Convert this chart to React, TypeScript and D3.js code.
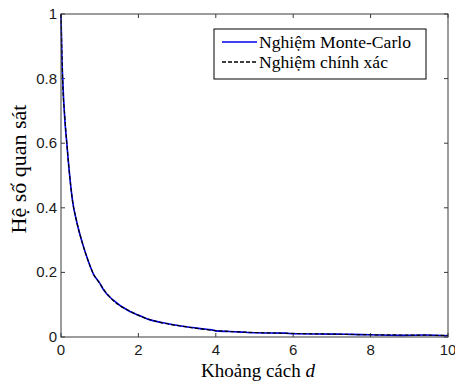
import { useRef, useEffect } from "react";
import * as d3 from "d3";

// distance d and correlation values
const exactD = [0, 0.02, 0.04, 0.1, 0.15, 0.2, 0.3, 0.4, 0.53, 0.69, 0.84, 1.0, 1.1, 1.35, 1.78, 2.0, 2.64, 3.1, 3.6, 4.0, 5, 6, 7, 8, 9, 10];
const exactV = [1.0, 0.9, 0.8, 0.68, 0.6, 0.53, 0.42, 0.36, 0.3, 0.24, 0.195, 0.166, 0.148, 0.113, 0.08, 0.067, 0.043, 0.034, 0.025, 0.02, 0.014, 0.011, 0.009, 0.007, 0.006, 0.005];

const mcD = [0, 0.02, 0.04, 0.1, 0.15, 0.2, 0.3, 0.4, 0.53, 0.69, 0.84, 1.0, 1.1, 1.35, 1.78, 2.0, 2.3, 2.64, 3.1, 3.6, 3.9, 4.0, 4.6, 5.0, 5.8, 6.0, 7.1, 7.5, 8.0, 8.8, 9.4, 10];
const mcV = [1.0, 0.88, 0.81, 0.67, 0.6, 0.53, 0.42, 0.36, 0.3, 0.24, 0.194, 0.167, 0.146, 0.114, 0.079, 0.068, 0.053, 0.044, 0.034, 0.026, 0.022, 0.019, 0.016, 0.013, 0.012, 0.010, 0.009, 0.008, 0.007, 0.005, 0.006, 0.004];

const xTicks = [0, 2, 4, 6, 8, 10];
const yTicks = [0, 0.2, 0.4, 0.6, 0.8, 1];

const legendLabels = ["Nghiệm Monte-Carlo", "Nghiệm chính xác"];

const SERIF = "Liberation Serif, DejaVu Serif, Times New Roman, serif";
const SANS = "Liberation Sans, Arial, sans-serif";

export default function App() {
  const ref = useRef<SVGSVGElement>(null);

  useEffect(() => {
    if (!ref.current) return;
    const svg = d3.select(ref.current);
    svg.selectAll("*").remove();

    const left = 61, right = 448, top = 14, bottom = 337;
    const x = d3.scaleLinear().domain([0, 10]).range([left, right]);
    const y = d3.scaleLinear().domain([0, 1]).range([bottom, top]);

    svg.append("rect").attr("width", 455).attr("height", 383).attr("fill", "#fff");

    // ticks (inside, all four sides)
    const axisColor = "#3a3a3a";
    const tl = 4;
    xTicks.forEach((t) => {
      svg.append("line").attr("x1", x(t)).attr("x2", x(t)).attr("y1", bottom).attr("y2", bottom - tl).attr("stroke", axisColor);
      svg.append("line").attr("x1", x(t)).attr("x2", x(t)).attr("y1", top).attr("y2", top + tl).attr("stroke", axisColor);
      svg.append("text")
        .attr("x", x(t)).attr("y", 355)
        .attr("text-anchor", "middle")
        .attr("font-family", SANS)
        .attr("font-size", 15)
        .attr("fill", "#1a1a1a")
        .text(String(t));
    });
    yTicks.forEach((t) => {
      svg.append("line").attr("x1", left).attr("x2", left + tl).attr("y1", y(t)).attr("y2", y(t)).attr("stroke", axisColor);
      svg.append("line").attr("x1", right).attr("x2", right - tl).attr("y1", y(t)).attr("y2", y(t)).attr("stroke", axisColor);
      svg.append("text")
        .attr("x", 57).attr("y", y(t) + 5)
        .attr("text-anchor", "end")
        .attr("font-family", SANS)
        .attr("font-size", 15)
        .attr("fill", "#1a1a1a")
        .text(String(t));
    });

    const line = d3.line<[number, number]>().x((d) => x(d[0])).y((d) => y(d[1])).curve(d3.curveMonotoneX);

    const mc: [number, number][] = mcD.map((d, i) => [d, mcV[i]]);
    const ex: [number, number][] = exactD.map((d, i) => [d, exactV[i]]);

    svg.append("path").attr("d", line(mc)).attr("fill", "none").attr("stroke", "#0000ee").attr("stroke-width", 1.6);
    svg.append("path").attr("d", line(ex)).attr("fill", "none").attr("stroke", "#000").attr("stroke-width", 1.2).attr("stroke-dasharray", "4,2");

    // frame
    svg.append("rect")
      .attr("x", left).attr("y", top).attr("width", right - left).attr("height", bottom - top)
      .attr("fill", "none").attr("stroke", axisColor).attr("stroke-width", 1);

    // legend
    const lg = svg.append("g");
    lg.append("rect").attr("x", 214).attr("y", 29).attr("width", 212).attr("height", 50)
      .attr("fill", "#fff").attr("stroke", "#000").attr("stroke-width", 1);
    const rowsY = [42, 62];
    const styles = [{ c: "#0000ee", dash: null }, { c: "#000", dash: "4,2" }];
    legendLabels.forEach((lab, i) => {
      const l = lg.append("line").attr("x1", 222).attr("x2", 257).attr("y1", rowsY[i]).attr("y2", rowsY[i])
        .attr("stroke", styles[i].c).attr("stroke-width", 1.5);
      if (styles[i].dash) l.attr("stroke-dasharray", styles[i].dash);
      lg.append("text").attr("x", 259).attr("y", rowsY[i] + 6)
        .attr("font-family", SERIF)
        .attr("font-size", 17.6)
        .attr("fill", "#000")
        .text(lab);
    });

    // axis labels
    svg.append("text")
      .attr("transform", "translate(26,169) rotate(-90)")
      .attr("text-anchor", "middle")
      .attr("font-family", SERIF)
      .attr("font-size", 22)
      .attr("fill", "#000")
      .text("Hệ số quan sát");

    const xl = svg.append("text")
      .attr("x", 258).attr("y", 377)
      .attr("text-anchor", "middle")
      .attr("font-family", SERIF)
      .attr("font-size", 19)
      .attr("fill", "#000");
    xl.append("tspan").text("Khoảng cách ");
    xl.append("tspan").attr("font-style", "italic").text("d");
  }, []);

  return <svg ref={ref} width={455} height={383} style={{ position: "absolute", left: 0, top: 0 }} />;
}
